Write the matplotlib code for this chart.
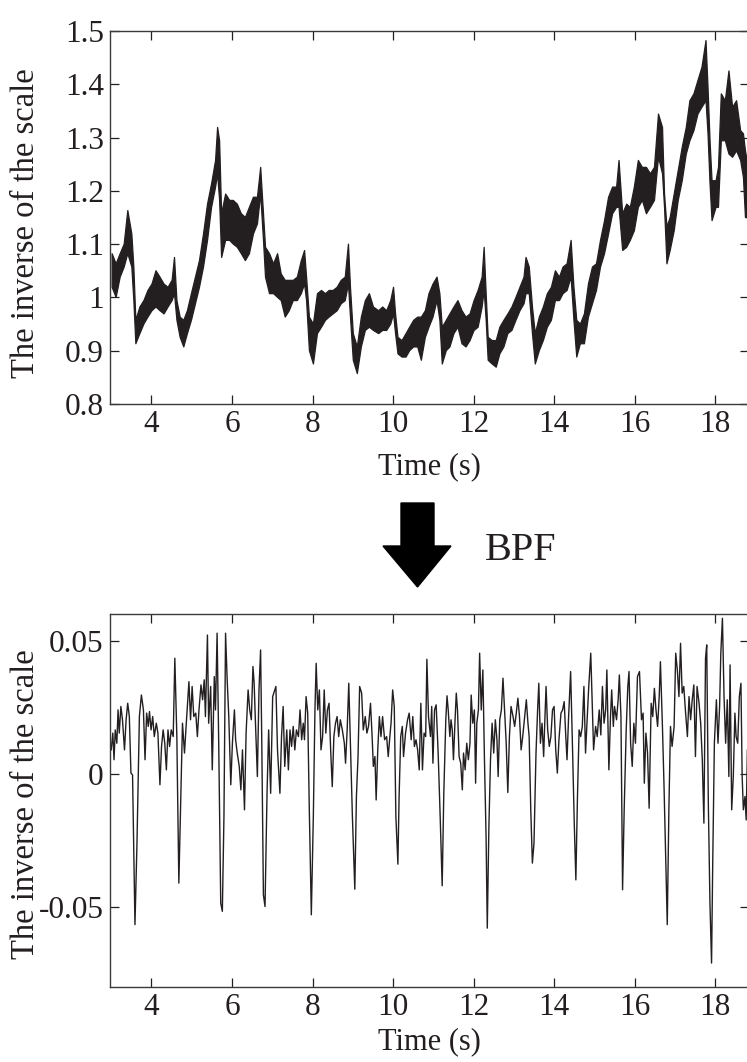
import matplotlib
matplotlib.use("Agg")
import matplotlib.pyplot as plt
from matplotlib.patches import Polygon

plt.rcParams['font.family'] = ['Liberation Serif', 'DejaVu Serif']

# ---- top panel: raw signal, read as upper / lower edge of the noisy trace
t_top = [3.01, 3.11, 3.21, 3.31, 3.40, 3.50, 3.55, 3.60, 3.70, 3.80, 3.90, 4.00,
         4.10, 4.20, 4.30, 4.40, 4.50, 4.56, 4.62, 4.70, 4.79, 4.88, 4.98, 5.08,
         5.18, 5.28, 5.38, 5.48, 5.58, 5.63, 5.68, 5.73, 5.83, 5.93, 6.02, 6.12,
         6.22, 6.32, 6.42, 6.52, 6.62, 6.70, 6.77, 6.82, 6.92, 7.02, 7.12, 7.21,
         7.31, 7.41, 7.51, 7.61, 7.71, 7.79, 7.84, 7.91, 8.01, 8.11, 8.21, 8.31,
         8.40, 8.50, 8.60, 8.70, 8.80, 8.88, 8.93, 9.00, 9.10, 9.20, 9.30, 9.40,
         9.50, 9.63, 9.73, 9.83, 9.93, 10.00, 10.05, 10.11, 10.21, 10.31, 10.40,
         10.50, 10.60, 10.69, 10.79, 10.88, 10.98, 11.08, 11.15, 11.21, 11.31,
         11.40, 11.50, 11.60, 11.70, 11.80, 11.90, 12.00, 12.10, 12.20, 12.25,
         12.30, 12.35, 12.45, 12.55, 12.64, 12.74, 12.84, 12.94, 13.04, 13.14,
         13.24, 13.29, 13.37, 13.45, 13.52, 13.62, 13.72, 13.82, 13.92, 14.02,
         14.12, 14.21, 14.31, 14.41, 14.48, 14.55, 14.64, 14.74, 14.84, 14.94,
         15.04, 15.14, 15.24, 15.34, 15.44, 15.54, 15.60, 15.69, 15.79, 15.88,
         15.98, 16.08, 16.18, 16.28, 16.38, 16.48, 16.58, 16.68, 16.73, 16.79,
         16.87, 16.97, 17.07, 17.17, 17.27, 17.36, 17.46, 17.56, 17.66, 17.76,
         17.81, 17.86, 17.91, 18.01, 18.07, 18.14, 18.24, 18.33, 18.42, 18.52,
         18.62, 18.69, 18.74, 18.80]
hi_top = [1.083, 1.064, 1.083, 1.101, 1.164, 1.120, 1.058, 0.958, 0.983, 0.995, 1.014, 1.026,
          1.051, 1.039, 1.026, 1.020, 1.033, 1.076, 0.995, 0.964, 0.958, 0.976, 1.008, 1.039,
          1.070, 1.120, 1.176, 1.214, 1.258, 1.320, 1.295, 1.158, 1.195, 1.183, 1.183, 1.176,
          1.158, 1.151, 1.170, 1.189, 1.189, 1.245, 1.158, 1.095, 1.083, 1.064, 1.083, 1.045,
          1.033, 1.033, 1.033, 1.039, 1.070, 1.089, 1.039, 0.964, 0.951, 1.008, 1.014, 1.008,
          1.014, 1.014, 1.020, 1.033, 1.039, 1.101, 1.020, 0.933, 0.908, 0.964, 0.995, 1.008,
          0.983, 0.976, 0.983, 0.976, 0.995, 1.020, 0.970, 0.926, 0.920, 0.933, 0.945,
          0.958, 0.964, 0.964, 0.976, 1.008, 1.026, 1.039, 1.008, 0.945, 0.958,
          0.970, 0.983, 0.995, 0.976, 0.964, 0.970, 0.995, 1.014, 1.039, 1.095,
          1.008, 0.926, 0.920, 0.920, 0.945, 0.958, 0.970, 0.983, 1.001, 1.020,
          1.039, 1.076, 1.058, 0.983, 0.933, 0.964, 0.983, 1.008, 1.020, 1.051,
          1.039, 1.058, 1.064, 1.108, 1.020, 0.958, 0.951, 0.970, 1.026, 1.058,
          1.064, 1.108, 1.145, 1.189, 1.208, 1.208, 1.258, 1.158, 1.176, 1.170,
          1.208, 1.258, 1.245, 1.245, 1.233, 1.245, 1.345, 1.320, 1.195, 1.133,
          1.151, 1.195, 1.239, 1.283, 1.320, 1.370, 1.383, 1.408, 1.433, 1.483,
          1.395, 1.295, 1.220, 1.220, 1.245, 1.383, 1.370, 1.426, 1.358, 1.370,
          1.314, 1.308, 1.276, 1.250]
lo_top = [1.020, 1.001, 1.039, 1.058, 1.083, 1.058, 0.995, 0.914, 0.933, 0.951, 0.964, 0.976,
          0.983, 0.976, 0.970, 0.983, 0.995, 1.008, 0.958, 0.926, 0.908, 0.933, 0.958, 0.989,
          1.020, 1.058, 1.108, 1.170, 1.208, 1.233, 1.183, 1.076, 1.108, 1.108, 1.101, 1.095,
          1.083, 1.070, 1.083, 1.120, 1.139, 1.195, 1.108, 1.039, 1.008, 1.008, 1.001, 0.995,
          0.964, 0.976, 0.995, 0.995, 1.008, 1.026, 0.995, 0.901, 0.876, 0.933, 0.945, 0.958,
          0.964, 0.970, 0.976, 0.989, 0.995, 1.026, 0.964, 0.883, 0.858, 0.908, 0.939, 0.945,
          0.939, 0.933, 0.939, 0.939, 0.951, 0.970, 0.933, 0.895, 0.889, 0.889, 0.901,
          0.908, 0.908, 0.883, 0.926, 0.945, 0.964, 0.995, 0.958, 0.876, 0.901,
          0.908, 0.933, 0.945, 0.914, 0.908, 0.920, 0.939, 0.945, 0.983, 1.014,
          0.958, 0.883, 0.876, 0.870, 0.895, 0.908, 0.933, 0.939, 0.958, 0.976,
          0.989, 1.008, 1.008, 0.933, 0.876, 0.901, 0.920, 0.945, 0.958, 0.995,
          0.995, 1.008, 1.014, 1.039, 0.958, 0.889, 0.914, 0.914, 0.964, 0.989,
          1.014, 1.058, 1.083, 1.120, 1.158, 1.170, 1.170, 1.089, 1.095, 1.108,
          1.126, 1.170, 1.183, 1.158, 1.170, 1.183, 1.264, 1.233, 1.170, 1.064,
          1.089, 1.126, 1.183, 1.220, 1.270, 1.295, 1.314, 1.345, 1.358, 1.370,
          1.308, 1.214, 1.145, 1.170, 1.170, 1.295, 1.295, 1.270, 1.264, 1.276,
          1.258, 1.226, 1.151, 1.150]

# ---- bottom panel: band-pass filtered signal
t_bot = [3.00, 3.04, 3.07, 3.10, 3.14, 3.17, 3.20, 3.24, 3.28, 3.33, 3.37, 3.41,
         3.45, 3.49, 3.53, 3.59, 3.64, 3.70, 3.75, 3.80, 3.84, 3.88, 3.92, 3.95,
         3.99, 4.03, 4.07, 4.12, 4.16, 4.21, 4.25, 4.29, 4.33, 4.37, 4.41, 4.45,
         4.49, 4.54, 4.58, 4.63, 4.68, 4.72, 4.77, 4.82, 4.86, 4.93, 4.97, 5.01,
         5.05, 5.10, 5.14, 5.18, 5.23, 5.27, 5.31, 5.34, 5.39, 5.42, 5.47, 5.51,
         5.56, 5.59, 5.63, 5.67, 5.72, 5.76, 5.80, 5.84, 5.88, 5.92, 5.97, 6.01,
         6.06, 6.09, 6.13, 6.18, 6.22, 6.26, 6.31, 6.35, 6.40, 6.44, 6.48, 6.52,
         6.55, 6.58, 6.63, 6.67, 6.71, 6.74, 6.78, 6.82, 6.87, 6.91, 6.96, 7.01,
         7.09, 7.13, 7.19, 7.23, 7.27, 7.31, 7.36, 7.40, 7.44, 7.48, 7.52, 7.56,
         7.60, 7.65, 7.69, 7.73, 7.77, 7.80, 7.84, 7.88, 7.92, 7.97, 8.02, 8.06,
         8.09, 8.13, 8.17, 8.21, 8.25, 8.29, 8.33, 8.37, 8.41, 8.45, 8.49, 8.53,
         8.57, 8.61, 8.65, 8.69, 8.74, 8.79, 8.82, 8.86, 8.90, 8.94, 8.99, 9.05,
         9.09, 9.13, 9.17, 9.22, 9.26, 9.31, 9.35, 9.39, 9.44, 9.48, 9.51, 9.55,
         9.58, 9.62, 9.66, 9.70, 9.74, 9.79, 9.84, 9.88, 9.92, 9.95, 9.99, 10.03,
         10.07, 10.12, 10.15, 10.19, 10.23, 10.26, 10.31, 10.36, 10.40, 10.45,
         10.49, 10.53, 10.57, 10.61, 10.65, 10.69, 10.73, 10.77, 10.81, 10.84,
         10.88, 10.93, 10.96, 10.99, 11.03, 11.07, 11.12, 11.17, 11.22, 11.26,
         11.31, 11.34, 11.37, 11.41, 11.44, 11.47, 11.50, 11.54, 11.57, 11.60,
         11.64, 11.68, 11.72, 11.75, 11.79, 11.83, 11.87, 11.91, 11.94, 11.98,
         12.02, 12.05, 12.08, 12.12, 12.15, 12.19, 12.23, 12.27, 12.31, 12.34,
         12.38, 12.42, 12.46, 12.50, 12.54, 12.58, 12.61, 12.65, 12.69, 12.73,
         12.77, 12.81, 12.85, 12.89, 12.93, 12.98, 13.02, 13.06, 13.10, 13.14,
         13.18, 13.22, 13.26, 13.31, 13.35, 13.38, 13.42, 13.46, 13.50, 13.55,
         13.59, 13.62, 13.66, 13.70, 13.74, 13.77, 13.80, 13.84, 13.88, 13.92,
         13.96, 14.00, 14.04, 14.08, 14.12, 14.17, 14.21, 14.25, 14.29, 14.32,
         14.36, 14.41, 14.46, 14.50, 14.54, 14.58, 14.62, 14.66, 14.70, 14.74,
         14.78, 14.82, 14.86, 14.91, 14.94, 14.98, 15.03, 15.07, 15.12, 15.16,
         15.20, 15.24, 15.28, 15.31, 15.36, 15.40, 15.43, 15.47, 15.50, 15.55,
         15.59, 15.62, 15.66, 15.70, 15.74, 15.79, 15.83, 15.86, 15.90, 15.94,
         15.98, 16.02, 16.07, 16.12, 16.17, 16.21, 16.24, 16.28, 16.32, 16.36,
         16.41, 16.45, 16.49, 16.53, 16.57, 16.61, 16.64, 16.69, 16.73, 16.76,
         16.81, 16.85, 16.89, 16.93, 16.98, 17.02, 17.06, 17.10, 17.14, 17.18,
         17.22, 17.26, 17.31, 17.35, 17.39, 17.43, 17.47, 17.51, 17.55, 17.60,
         17.64, 17.68, 17.72, 17.76, 17.79, 17.83, 17.87, 17.91, 17.94, 17.98,
         18.03, 18.07, 18.11, 18.14, 18.18, 18.22, 18.26, 18.30, 18.34, 18.37,
         18.41, 18.45, 18.49, 18.52, 18.56, 18.60, 18.64, 18.67, 18.70, 18.74,
         18.77, 18.80]
v_bot = [0.0090, 0.0153, 0.0053, 0.0165, 0.0115, 0.0240, 0.0153, 0.0253, 0.0203, 0.0090, 0.0203, 0.0265,
         0.0215, 0.0003, -0.0004, -0.0566, -0.0260, 0.0215, 0.0296, 0.0240, 0.0053, 0.0228, 0.0178, 0.0234,
         0.0165, 0.0215, 0.0140, 0.0190, 0.0153, -0.0041, 0.0103, 0.0165, 0.0115, 0.0015, 0.0165, 0.0103,
         0.0165, 0.0140, 0.0434, 0.0140, -0.0410, -0.0135, 0.0190, 0.0078, 0.0178, 0.0346, 0.0203, 0.0328,
         0.0215, 0.0228, 0.0140, 0.0240, 0.0334, 0.0278, 0.0353, 0.0215, 0.0521, 0.0190, 0.0328, 0.0015,
         0.0365, 0.0240, 0.0528, 0.0115, -0.0485, -0.0516, -0.0160, 0.0528, 0.0353, 0.0215, -0.0041, 0.0115,
         0.0240, 0.0128, 0.0078, 0.0028, -0.0060, 0.0090, -0.0135, 0.0153, 0.0315, 0.0240, 0.0203, 0.0403,
         0.0340, 0.0203, -0.0010, 0.0315, 0.0465, 0.0115, -0.0454, -0.0498, -0.0073, 0.0165, -0.0073, 0.0290,
         0.0328, 0.0090, -0.0073, 0.0140, 0.0253, 0.0028, 0.0165, 0.0015, 0.0165, 0.0103, 0.0178, 0.0090,
         0.0165, 0.0140, 0.0240, 0.0128, 0.0190, 0.0128, 0.0290, 0.0228, -0.0135, -0.0529, -0.0160, 0.0240,
         0.0415, 0.0240, 0.0315, 0.0090, 0.0140, 0.0315, 0.0153, 0.0240, 0.0265, 0.0090, -0.0048, 0.0140,
         0.0190, 0.0215, 0.0140, 0.0203, 0.0165, 0.0115, 0.0040, 0.0165, 0.0340, 0.0115, -0.0160, -0.0433,
         -0.0085, 0.0065, 0.0328, 0.0303, 0.0165, 0.0215, 0.0153, 0.0178, 0.0265, 0.0140, 0.0028, 0.0065,
         -0.0098, 0.0090, 0.0215, 0.0140, 0.0215, 0.0128, 0.0140, 0.0065, 0.0140, 0.0190, 0.0315, 0.0253,
         -0.0160, -0.0339, -0.0085, 0.0140, 0.0178, 0.0065, 0.0153, 0.0203, 0.0228, 0.0128,
         0.0215, 0.0103, 0.0128, 0.0090, 0.0015, 0.0265, 0.0015, 0.0153, 0.0140, 0.0430,
         0.0215, 0.0140, 0.0253, 0.0040, 0.0240, 0.0259, 0.0078, -0.0160, -0.0420, -0.0073,
         0.0203, 0.0293, 0.0240, 0.0140, 0.0203, 0.0165, 0.0053, 0.0203, 0.0303, 0.0240,
         0.0065, 0.0040, -0.0060, 0.0078, 0.0015, 0.0115, 0.0053, 0.0115, 0.0296, 0.0190,
         0.0240, -0.0035, 0.0190, 0.0240, 0.0453, 0.0240, 0.0390, 0.0053, -0.0235, -0.0579,
         -0.0198, 0.0053, 0.0190, 0.0078, 0.0203, 0.0128, -0.0010, 0.0203, 0.0240, 0.0359,
         0.0240, 0.0115, -0.0070, 0.0140, 0.0253, 0.0215, 0.0178, 0.0228, 0.0284, 0.0215,
         0.0090, 0.0140, 0.0203, 0.0278, 0.0190, 0.0140, -0.0135, -0.0335, -0.0260, 0.0078,
         0.0240, 0.0340, 0.0115, 0.0190, 0.0065, 0.0203, 0.0328, 0.0165, 0.0103, 0.0140,
         0.0240, 0.0253, 0.0090, 0.0003, 0.0128, 0.0228, 0.0240, 0.0271, 0.0140, 0.0053,
         0.0215, 0.0384, 0.0078, -0.0185, -0.0398, -0.0085, 0.0165, 0.0140, 0.0178, 0.0328,
         0.0078, 0.0203, 0.0328, 0.0453, 0.0303, 0.0090, 0.0178, 0.0140, 0.0240, 0.0146,
         0.0328, 0.0190, 0.0240, 0.0390, 0.0015, 0.0215, 0.0315, 0.0178, 0.0253, 0.0203,
         0.0278, 0.0371, 0.0215, -0.0435, -0.0135, 0.0165, 0.0328, 0.0384, 0.0115, 0.0028,
         0.0190, 0.0115, 0.0365, 0.0384, 0.0203, 0.0228, -0.0035, 0.0153, 0.0078, -0.0129,
         0.0265, 0.0215, 0.0321, 0.0240, 0.0178, 0.0290, 0.0421, 0.0178, -0.0048, -0.0248,
         -0.0566, -0.0135, 0.0178, 0.0103, 0.0178, 0.0453, 0.0390, 0.0290, 0.0490, 0.0303,
         0.0328, 0.0240, 0.0140, 0.0290, 0.0203, 0.0278, 0.0334, 0.0065, 0.0328, 0.0265,
         0.0190, 0.0053, -0.0185, 0.0434, 0.0484, -0.0110, -0.0485, -0.0710, -0.0323, 0.0115,
         0.0278, 0.0115, 0.0253, 0.0453, 0.0584, 0.0290, 0.0115, 0.0278, -0.0010, 0.0409,
         -0.0135, -0.0010, 0.0228, 0.0140, 0.0115, 0.0290, 0.0340, -0.0010, -0.0135, -0.0085,
         -0.0173, 0.0090]

x_ticks = [4, 6, 8, 10, 12, 14, 16, 18]
top_yticks = [0.8, 0.9, 1.0, 1.1, 1.2, 1.3, 1.4, 1.5]
top_ylabels = ['0.8', '0.9', '1', '1.1', '1.2', '1.3', '1.4', '1.5']
bot_yticks = [-0.05, 0, 0.05]
bot_ylabels = ['-0.05', '0', '0.05']

W, H = 747, 1062
fig = plt.figure(figsize=(W / 100, H / 100), dpi=100)
line_col = '#231f20'


def style(ax):
    ax.set_xlim(2.97, 18.84)
    ax.set_xticks(x_ticks)
    ax.tick_params(direction='in', length=6.5, width=0.9, top=True, right=True,
                   labelsize=22.5, colors='#231f20', pad=4.5)
    for s in ax.spines.values():
        s.set_linewidth(1.0)
        s.set_color('#3a3a3a')
    ax.set_xlabel('Time (s)', fontsize=22, color='#231f20')
    ax.set_ylabel('The inverse of the scale', fontsize=23.5, color='#231f20')


# top axes: x 110..749 px, y 31..404 px
ax1 = fig.add_axes([110 / W, 1 - 404 / H, 639 / W, 373 / H])
ax1.fill_between(t_top, lo_top, hi_top, color=line_col, linewidth=0.9, edgecolor=line_col)
ax1.set_ylim(0.8, 1.5)
ax1.set_yticks(top_yticks)
ax1.set_yticklabels(top_ylabels)
style(ax1)
ax1.xaxis.set_label_coords(0.5, -0.128)
ax1.yaxis.set_label_coords(-0.108, 0.485)

# bottom axes: y 614..987 px
ax2 = fig.add_axes([110 / W, 1 - 987 / H, 639 / W, 373 / H])
ax2.plot(t_bot, v_bot, color=line_col, linewidth=1.0)
ax2.set_ylim(-0.08, 0.06)
ax2.set_yticks(bot_yticks)
ax2.set_yticklabels(bot_ylabels)
style(ax2)
ax2.xaxis.set_label_coords(0.5, -0.108)
ax2.yaxis.set_label_coords(-0.108, 0.49)

# arrow between the panels (figure pixels)
arrow_px = [(401, 503), (434, 503), (434, 546), (451, 546), (417.5, 587), (383, 546), (401, 546)]
arrow = Polygon([(x / W, 1 - y / H) for x, y in arrow_px], closed=True,
                facecolor='black', edgecolor='black', transform=fig.transFigure)
fig.patches.append(arrow)
fig.text(485 / W, 1 - 560 / H, 'BPF', fontsize=29, ha='left', va='baseline', color='#231f20')

fig.savefig('out.png', dpi=100)
